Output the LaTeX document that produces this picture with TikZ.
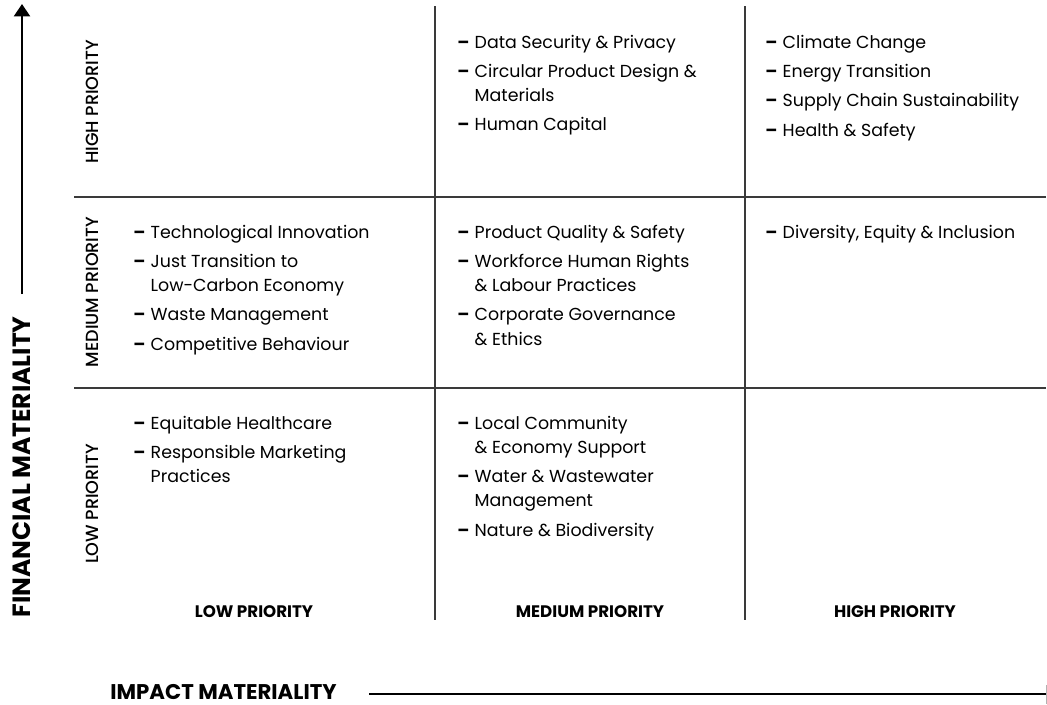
\documentclass[tikz,border=0pt]{standalone}
\usepackage{fontspec}
\setmainfont{Poppins}
\IfFontExistsTF{Poppins Medium}{\newfontfamily\mediumfont{Poppins Medium}}{\newcommand{\mediumfont}{\bfseries}}
\usetikzlibrary{arrows.meta}
\definecolor{gridgray}{HTML}{3A3A3A}
\newcommand{\cell}[1]{\begin{tabular}{@{}l@{\hspace{3pt}}l@{}}#1\end{tabular}}
\newcommand{\dashmark}{\textbf{–}}

\begin{document}
\begin{tikzpicture}[x=0.02cm,y=-0.02cm,
    grid line/.style={draw=gridgray,line width=0.8pt},
    axis line/.style={draw=black,line width=1.5pt},
    item text/.style={anchor=north west,inner sep=0pt,font=\fontsize{9.9}{13.7}\selectfont},
    row text/.style={inner sep=0pt,rotate=90,font=\fontsize{10}{11}\selectfont\mediumfont},
    col text/.style={inner sep=0pt,font=\fontsize{9.5}{11}\selectfont\bfseries},
    axis text/.style={inner sep=0pt,font=\fontsize{#1}{15}\selectfont\bfseries}]
        \useasboundingbox (0,0) rectangle (1047,704);
        % grid
        \coordinate (v1top) at (435,6);
        \coordinate (v1bot) at (435,620);
        \coordinate (v2top) at (745,6);
        \coordinate (v2bot) at (745,620);
        \coordinate (h1left) at (74,197);
        \coordinate (h1right) at (1046,197);
        \coordinate (h2left) at (74,388);
        \coordinate (h2right) at (1046,388);
        \path [grid line] (v1top) -- (v1bot);
        \path [grid line] (v2top) -- (v2bot);
        \path [grid line] (h1left) -- (h1right);
        \path [grid line] (h2left) -- (h2right);
        % axes
        \coordinate (ybot) at (22,294);
        \coordinate (ytop) at (22,4);
        \coordinate (xleft) at (369,694);
        \coordinate (xright) at (1046,694);
        \coordinate (ticktop) at (1046,685);
        \coordinate (tickbot) at (1046,704);
        \path [axis line,-{Triangle[length=7pt,width=9pt]}] (ybot) -- (ytop);
        \path [axis line] (xleft) -- (xright);
        \path [draw=gray!60,line width=0.4pt] (ticktop) -- (tickbot);
        \node [axis text=14.2,rotate=90] (financial) at (22,467) {FINANCIAL MATERIALITY};
        \node [axis text=12.1,anchor=west] (impact) at (110,692) {IMPACT MATERIALITY};
        % row labels
        \node [row text] (rowhigh) at (92,102) {HIGH PRIORITY};
        \node [row text] (rowmed) at (92,292) {MEDIUM PRIORITY};
        \node [row text] (rowlow) at (92,504) {LOW PRIORITY};
        % column labels
        \node [col text] (collow) at (254,612) {LOW PRIORITY};
        \node [col text] (colmed) at (590,612) {MEDIUM PRIORITY};
        \node [col text] (colhigh) at (895,612) {HIGH PRIORITY};
        % high financial priority
        \node [item text] (highmed) at (457,31) {\cell{
            \dashmark & Data Security \& Privacy\\[3pt]
            \dashmark & Circular Product Design \&\\
              & Materials\\[3pt]
            \dashmark & Human Capital}};
        \node [item text] (highhigh) at (765,31) {\cell{
            \dashmark & Climate Change\\[3pt]
            \dashmark & Energy Transition\\[3pt]
            \dashmark & Supply Chain Sustainability\\[3pt]
            \dashmark & Health \& Safety}};
        % medium financial priority
        \node [item text] (medlow) at (133,221) {\cell{
            \dashmark & Technological Innovation\\[3pt]
            \dashmark & Just Transition to\\
              & Low-Carbon Economy\\[3pt]
            \dashmark & Waste Management\\[3pt]
            \dashmark & Competitive Behaviour}};
        \node [item text] (medmed) at (457,221) {\cell{
            \dashmark & Product Quality \& Safety\\[3pt]
            \dashmark & Workforce Human Rights\\
              & \& Labour Practices\\[3pt]
            \dashmark & Corporate Governance\\
              & \& Ethics}};
        \node [item text] (medhigh) at (765,221) {\cell{
            \dashmark & Diversity, Equity \& Inclusion}};
        % low financial priority
        \node [item text] (lowlow) at (133,412) {\cell{
            \dashmark & Equitable Healthcare\\[3pt]
            \dashmark & Responsible Marketing\\
              & Practices}};
        \node [item text] (lowmed) at (457,412) {\cell{
            \dashmark & Local Community\\
              & \& Economy Support\\[3pt]
            \dashmark & Water \& Wastewater\\
              & Management\\[3pt]
            \dashmark & Nature \& Biodiversity}};
    \end{tikzpicture}
\end{document}
